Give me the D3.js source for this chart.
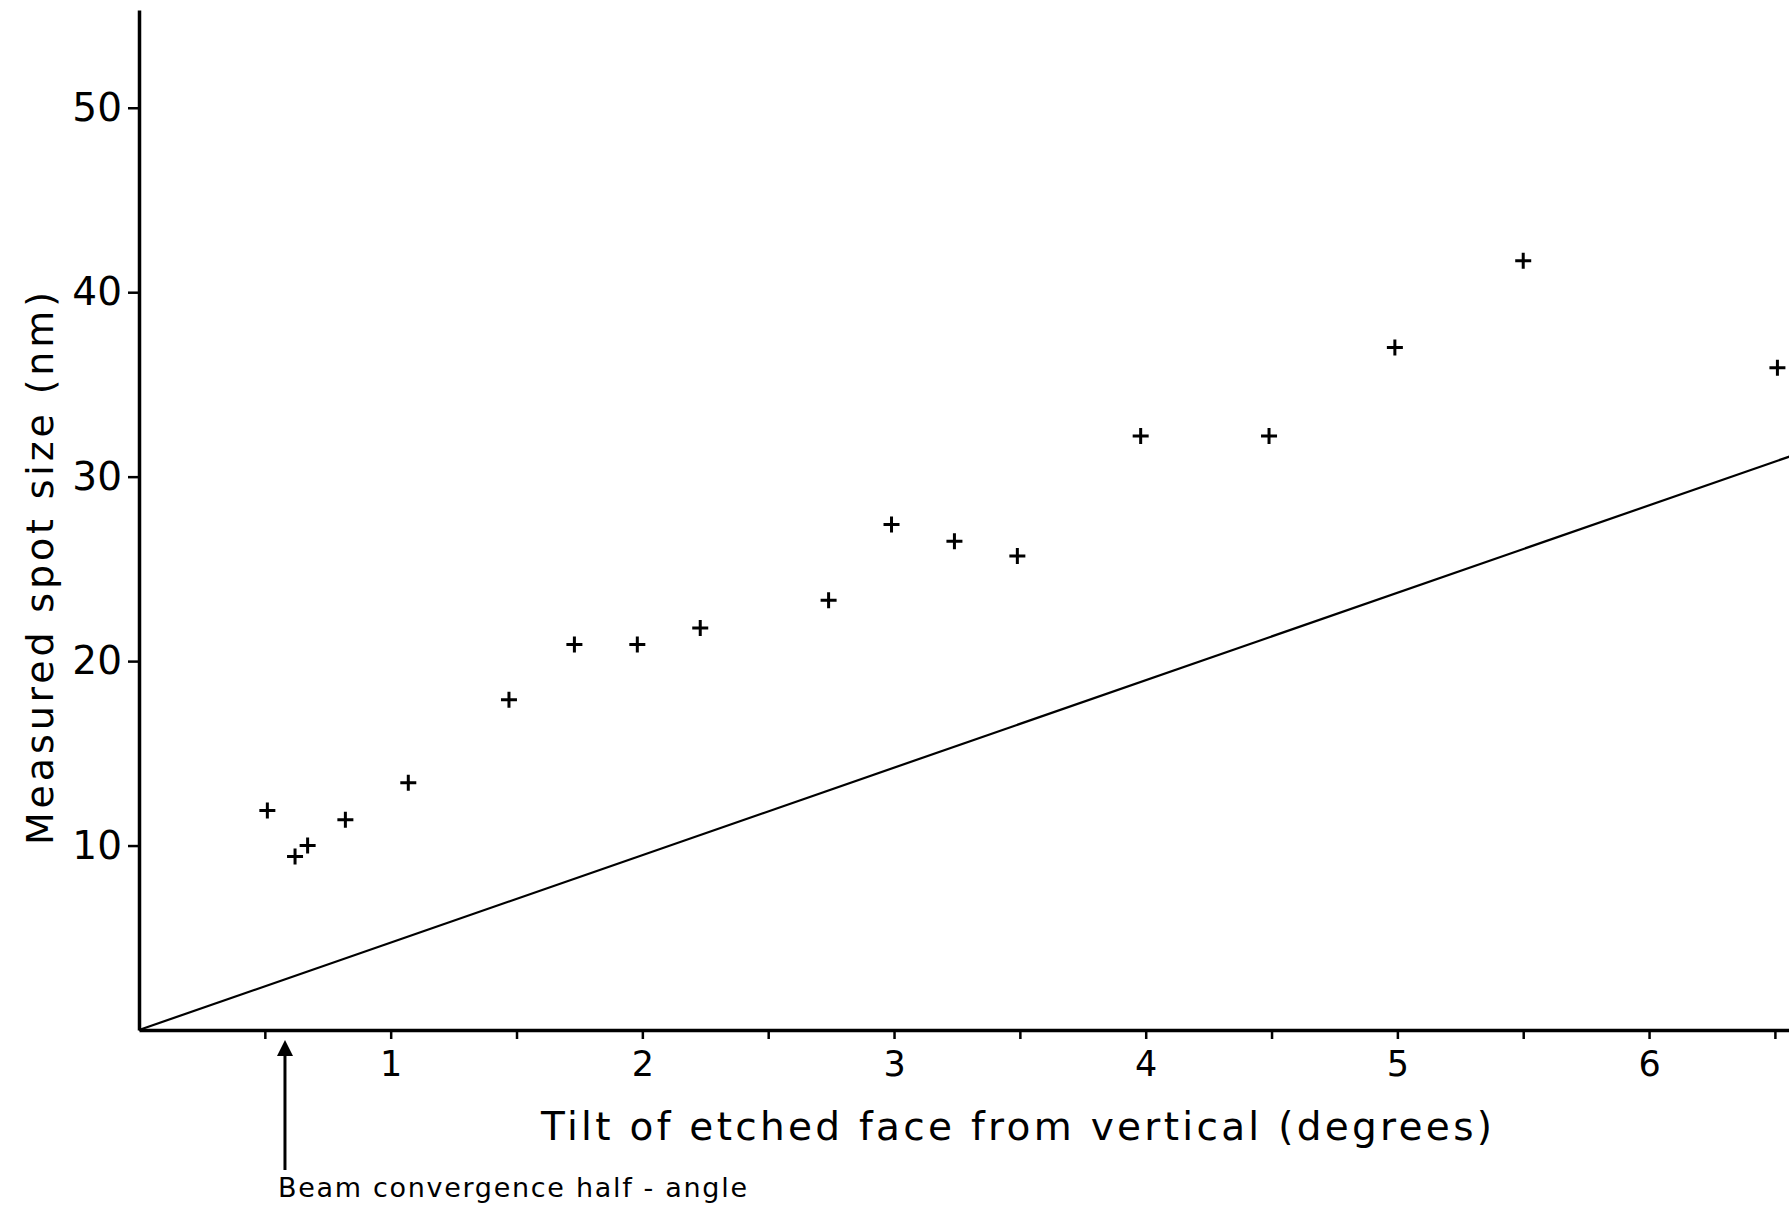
<!DOCTYPE html>
<html>
<head>
<meta charset="utf-8">
<script src="https://cdn.jsdelivr.net/npm/d3@7"></script>
<style>
  body { margin: 0; background: #fff; }
  svg { display: block; }
  text { font-family: "DejaVu Sans", sans-serif; fill: #000; }
</style>
</head>
<body>
<div id="chart"></div>
<script>
//Measured points
let tiltDeg = [0.51, 0.62, 0.67, 0.82, 1.07, 1.47, 1.73, 1.98, 2.23, 2.74, 2.99, 3.24, 3.49, 3.98, 4.49, 4.99, 5.50, 6.51];
let spotNm  = [11.9, 9.4, 10.0, 11.4, 13.4, 17.9, 20.9, 20.9, 21.8, 23.3, 27.4, 26.5, 25.7, 32.2, 32.2, 37.0, 41.7, 35.9];

//Straight reference line from the origin
let lineTilt = [0, 6.56];
let lineSpot = [0, 31.1];

//Ticks
let xTickValues = [0.5, 1, 1.5, 2, 2.5, 3, 3.5, 4, 4.5, 5, 5.5, 6, 6.5];
let yTickValues = [10, 20, 30, 40, 50];

//Beam convergence half-angle marker
let arrowTilt = 0.58;

let svgWidth = 1789;
let svgHeight = 1208;

let svg = d3.select("#chart")
  .append("svg")
  .attr("width", svgWidth)
  .attr("height", svgHeight);

let xScale = d3.scaleLinear()
  .domain([0, 6.56])
  .range([139, 1790]);
let yScale = d3.scaleLinear()
  .domain([0, 55.3])
  .range([1030, 10]);

//Bottom axis: ticks every 0.5, labels on whole degrees
let bottomAxis = d3.axisBottom(xScale)
  .tickValues(xTickValues)
  .tickSizeInner(9)
  .tickSizeOuter(0)
  .tickPadding(12)
  .tickFormat(d => Number.isInteger(d) ? d : "");

let leftAxis = d3.axisLeft(yScale)
  .tickValues(yTickValues)
  .tickSizeInner(11)
  .tickSizeOuter(0)
  .tickPadding(6);

let xAxisG = svg.append("g")
  .attr("transform", `translate(0, ${yScale(0)})`)
  .call(bottomAxis);
let yAxisG = svg.append("g")
  .attr("transform", `translate(${xScale(0)}, 0)`)
  .call(leftAxis);

xAxisG.select(".domain").attr("stroke-width", 3.5);
yAxisG.select(".domain").attr("stroke-width", 3.5);
xAxisG.selectAll(".tick line").attr("stroke-width", 2.5);
yAxisG.selectAll(".tick line").attr("stroke-width", 2.5);
xAxisG.selectAll("text").style("font-size", "35px").style("font-family", "DejaVu Sans");
yAxisG.selectAll("text").style("font-size", "39px").style("font-family", "DejaVu Sans");

//Reference line
let line = d3.line()
  .x(d => xScale(d[0]))
  .y(d => yScale(d[1]));
svg.append("path")
  .datum(d3.zip(lineTilt, lineSpot))
  .attr("d", line)
  .attr("fill", "none")
  .attr("stroke", "#000")
  .attr("stroke-width", 2.2);

//Plus markers
svg.selectAll(".pt")
  .data(d3.zip(tiltDeg, spotNm))
  .enter()
  .append("path")
  .attr("class", "pt")
  .attr("transform", d => `translate(${xScale(d[0])}, ${yScale(d[1])})`)
  .attr("d", "M-8,0H8M0,-8V8")
  .attr("stroke", "#000")
  .attr("stroke-width", 3)
  .attr("fill", "none");

//Arrow under the axis
let ax = xScale(arrowTilt);
svg.append("line")
  .attr("x1", ax).attr("x2", ax)
  .attr("y1", 1052).attr("y2", 1170)
  .attr("stroke", "#000")
  .attr("stroke-width", 3);
svg.append("path")
  .attr("d", `M${ax},1040L${ax - 8},1056L${ax + 8},1056Z`)
  .attr("fill", "#000");
svg.append("text")
  .attr("x", 278)
  .attr("y", 1197)
  .attr("textLength", 469)
  .attr("lengthAdjust", "spacing")
  .style("font-size", "27px")
  .text("Beam convergence half - angle");

//Axis titles
svg.append("text")
  .attr("x", 541)
  .attr("y", 1140)
  .attr("textLength", 951)
  .attr("lengthAdjust", "spacing")
  .style("font-size", "39px")
  .text("Tilt of etched face from vertical (degrees)");

svg.append("text")
  .attr("transform", "translate(53, 845) rotate(-90)")
  .attr("x", 0)
  .attr("y", 0)
  .attr("textLength", 553)
  .attr("lengthAdjust", "spacing")
  .style("font-size", "38px")
  .text("Measured spot size (nm)");
</script>
</body>
</html>
